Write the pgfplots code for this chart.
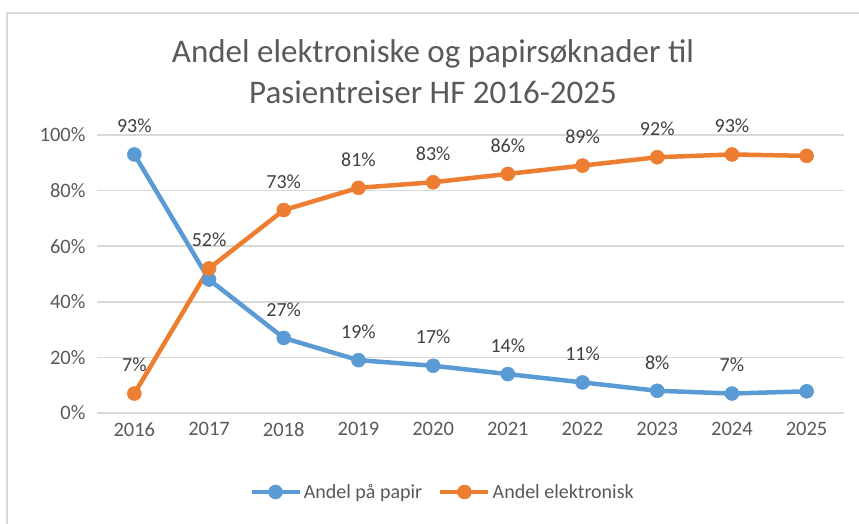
\documentclass[border=0pt]{standalone}
\usepackage{fontspec}
\setmainfont{Carlito}
\usepackage{pgfplots}
\usepackage{pgfplotstable}
\pgfplotsset{compat=1.18}

\definecolor{xlblue}{HTML}{5B9BD5}
\definecolor{xlorange}{HTML}{ED7D31}
\definecolor{xlgrid}{HTML}{D9D9D9}
\definecolor{xltext}{HTML}{595959}
\definecolor{xllabel}{HTML}{404040}

% year, share on paper, share electronic, and the labels shown above the points
\pgfplotstableread{
year papir elek lp le
2016 93 7 93\% 7\%
2017 48 52 {} 52\%
2018 27 73 27\% 73\%
2019 19 81 19\% 81\%
2020 17 83 17\% 83\%
2021 14 86 14\% 86\%
2022 11 89 11\% 89\%
2023 8 92 8\% 92\%
2024 7 93 7\% 93\%
2025 7.8 92.5 {} {}
}\datatable

\begin{document}
\begin{tikzpicture}
\useasboundingbox (-97pt,-111pt) rectangle (762pt,413pt);
\draw[xlgrid, line width=1.2pt] (-90pt,-120pt) -- (-90pt,400pt) -- (770pt,400pt);
\begin{axis}[
    scale only axis,
    width=747pt, height=278pt,
    xmin=2015.5, xmax=2025.5,
    ymin=0, ymax=100,
    xtick={2016,...,2025},
    ytick={0,20,...,100},
    x tick label style={/pgf/number format/1000 sep={}},
    /pgf/number format/assume math mode=true,
    yticklabel={\pgfmathprintnumber{\tick}\%},
    tick label style={font=\fontsize{20.5}{24}\selectfont, text=xltext},
    yticklabel style={xshift=-8pt},
    xticklabel style={yshift=-6pt},
    major tick style={draw=none},
    axis line style={draw=none},
    ymajorgrids,
    grid style={xlgrid, line width=1.5pt},
    clip=false,
    every axis plot/.append style={line width=4.5pt, mark=*, mark size=7pt},
    nodes near coords={\pgfplotspointmeta},
    point meta=explicit symbolic,
    nodes near coords style={font=\fontsize{20}{24}\selectfont, text=xllabel, anchor=south, yshift=18pt},
    legend columns=2,
    legend style={draw=none, at={(345.5pt,-79pt)}, anchor=center,
        font=\fontsize{20}{24}\selectfont, text=xltext,
        /tikz/every even column/.append style={column sep=14pt}},
    legend image code/.code={%
        \draw[#1, line width=4.5pt, mark repeat=2, mark phase=2]
        plot coordinates {(0pt,0pt) (24pt,0pt) (48pt,0pt)};},
]
\addplot[xlblue, mark options={fill=xlblue, draw=xlblue, line width=0.5pt}] table[x=year, y=papir, meta=lp] {\datatable};
\addlegendentry{Andel på papir}
\addplot[xlorange, mark options={fill=xlorange, draw=xlorange, line width=0.5pt}] table[x=year, y=elek, meta=le] {\datatable};
\addlegendentry{Andel elektronisk}
\end{axis}
\node[align=center, text=xltext, font=\fontsize{33}{41}\selectfont] at (336pt,341pt)
    {Andel elektroniske og papirsøknader til\\Pasientreiser HF 2016-2025};
\end{tikzpicture}
\end{document}
